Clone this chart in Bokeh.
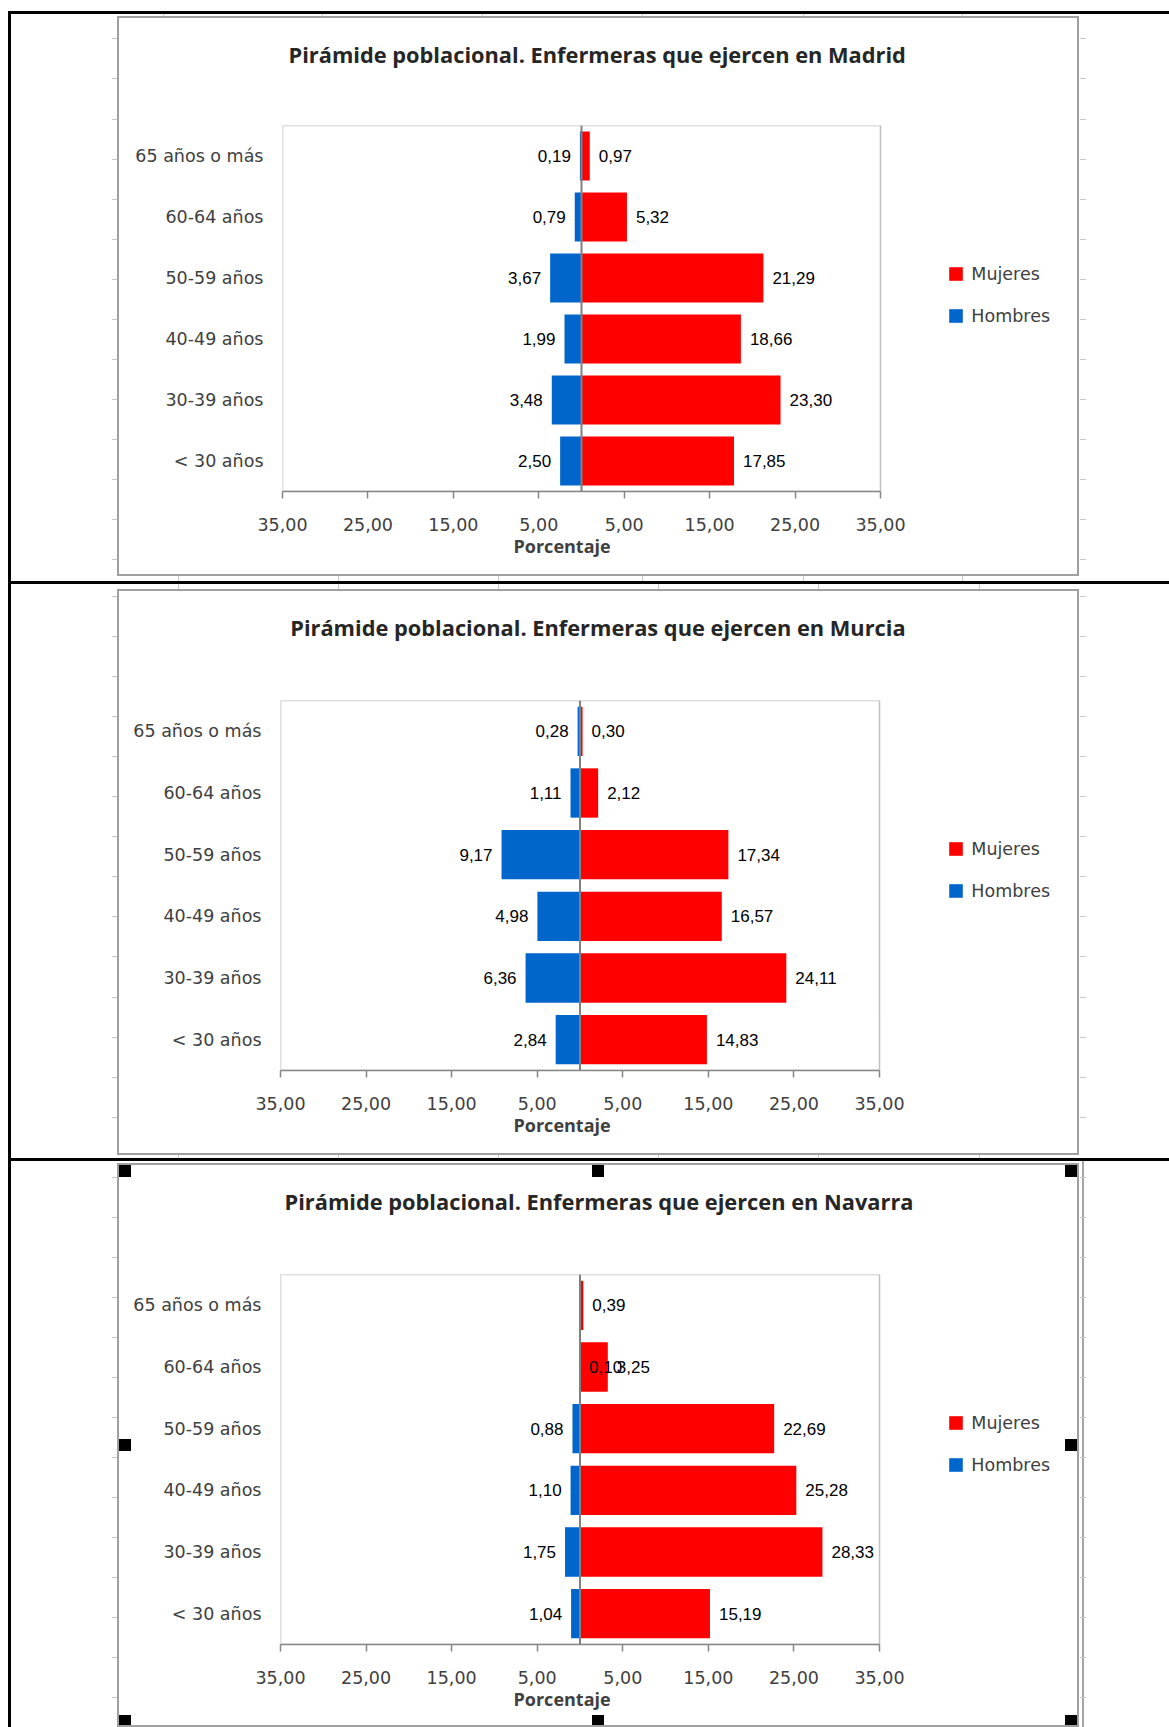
import numpy as np
from bokeh.plotting import figure
from bokeh.models import (ColumnDataSource, FactorRange, Range1d, LabelSet, Span, Title,
                          Legend, LegendItem, FixedTicker, BoxAnnotation)
from bokeh.layouts import column
from bokeh.embed import file_html
from bokeh.resources import INLINE
from bokeh.core.properties import value

# ---------------- data ----------------
AGE_GROUPS = ["< 30 años", "30-39 años", "40-49 años", "50-59 años", "60-64 años", "65 años o más"]
REGIONS = ["Madrid", "Murcia", "Navarra"]

MADRID_MUJERES = [17.85, 23.30, 18.66, 21.29, 5.32, 0.97]
MADRID_HOMBRES = [2.50, 3.48, 1.99, 3.67, 0.79, 0.19]
MURCIA_MUJERES = [14.83, 24.11, 16.57, 17.34, 2.12, 0.30]
MURCIA_HOMBRES = [2.84, 6.36, 4.98, 9.17, 1.11, 0.28]
NAVARRA_MUJERES = [15.19, 28.33, 25.28, 22.69, 3.25, 0.39]
NAVARRA_HOMBRES = [1.04, 1.75, 1.10, 0.88, 0.10, None]

TITLE_TEXT = "Pirámide poblacional. Enfermeras que ejercen en {}"
SERIES = ["Mujeres", "Hombres"]
X_TITLE = "Porcentaje"
X_TICKS = [-35, -25, -15, -5, 5, 15, 25, 35]
X_TICK_LABELS = ["35,00", "25,00", "15,00", "5,00", "5,00", "15,00", "25,00", "35,00"]
X_LIMITS = (-35, 35)

# ---------------- style / layout (page pixel geometry) ----------------
RED = "#FF0000"
BLUE = "#0066CC"
TEXT_GREY = "#404040"
UI_FONT = "DejaVu Sans"
BOLD_FONT = "Open Sans"
LABEL_FONT = "Liberation Sans"
BAR_HEIGHT = 0.8
LABEL_AT_ZERO = {"Navarra": ["60-64 años"]}   # Excel drew this Hombres label right of zero

PAGE_X0 = 8                              # left black line starts here
PAGE_X1 = 1169
CHART_X0, CHART_X1 = 117, 1079          # outer edges of the grey chart border (2px)
CANVAS_X0 = CHART_X0 + 2
CANVAS_W = CHART_X1 - CHART_X0 - 4
LEGEND_X = 947.3
STUB = "#C8C8C8"

GEOMETRY = {
    "Madrid": dict(border_y=11, chart_y0=16, chart_y1=576, next_border=581,
                   plot=(282, 125, 880, 491), title_left=288, stub_y0=38.4,
                   top_stubs=[162.6, 321.5, 482.2, 642.3, 802.7, 962.0],
                   bottom_stubs=[178, 338, 497.5, 642.3, 802.7, 962.0]),
    "Murcia": dict(border_y=581, chart_y0=589, chart_y1=1155, next_border=1158,
                   plot=(280, 700, 879, 1070), title_left=289.7, stub_y0=596.0,
                   top_stubs=[178, 338, 497.5, 658.3, 818.3, 978.6],
                   bottom_stubs=[178, 338, 497.5, 658.3, 818.3, 978.6]),
    "Navarra": dict(border_y=1158, chart_y0=1163, chart_y1=1727, next_border=1727,
                    plot=(280, 1274, 879, 1644), title_left=284, stub_y0=1176.5,
                    top_stubs=[], bottom_stubs=[], selected=True),
}


def fmt(v):
    return f"{v:.2f}".replace(".", ",")


def css_rect(x, y, w, h, color):
    return f"linear-gradient({color}, {color}) {x:.1f}px {y:.1f}px / {w:.1f}px {h:.1f}px no-repeat"


def build_panel(region, mujeres, hombres, first):
    g = GEOMETRY[region]
    px0, py0, px1, py1 = g["plot"]
    canvas_y0 = g["chart_y0"] + 2
    H = g["chart_y1"] - g["chart_y0"] - 4
    L = int(round(px0 - CANVAS_X0))
    T = int(round(py0 - canvas_y0))
    B = H - int(round(py1 - canvas_y0))
    # the frame runs on to the right edge of the chart so the legend can sit inside it;
    # the visible plot area stays -35..35
    frame_right = CANVAS_X0 + CANVAS_W
    x_end = X_LIMITS[1] + (frame_right - px1) * (X_LIMITS[1] - X_LIMITS[0]) / (px1 - px0)

    p = figure(width=CANVAS_W, height=H, x_range=Range1d(X_LIMITS[0], x_end),
               y_range=FactorRange(factors=AGE_GROUPS),
               output_backend="svg", toolbar_location=None,
               min_border_left=L, min_border_right=0, min_border_top=T, min_border_bottom=B,
               background_fill_alpha=0, border_fill_alpha=0)
    p.xgrid.visible = False
    p.ygrid.visible = False
    p.outline_line_color = None

    # plot-area border
    p.add_layout(BoxAnnotation(left=X_LIMITS[0], right=X_LIMITS[1], fill_alpha=0,
                               line_color="#C0C0C0", line_alpha=1, line_width=1.5, level="underlay"))

    # bars
    hom = np.array([np.nan if v is None else -v for v in hombres], dtype=float)
    src = ColumnDataSource(dict(age=AGE_GROUPS, muj=np.array(mujeres, dtype=float),
                                hom=hom, zero=np.zeros(len(AGE_GROUPS))))
    r_m = p.hbar(y="age", left="zero", right="muj", height=BAR_HEIGHT, source=src,
                 fill_color=RED, line_color=None)
    r_h = p.hbar(y="age", left="hom", right="zero", height=BAR_HEIGHT, source=src,
                 fill_color=BLUE, line_color=None)
    p.add_layout(Span(location=0, dimension="height", line_color="#808080", line_width=2))

    # data labels
    lab_style = dict(text_baseline="middle", text_font=value(LABEL_FONT),
                     text_font_size="17px", text_color="black")
    m_src = ColumnDataSource(dict(x=mujeres, y=AGE_GROUPS, t=[fmt(v) for v in mujeres]))
    p.add_layout(LabelSet(x="x", y="y", text="t", source=m_src, x_offset=9,
                          text_align="left", **lab_style))
    at_zero = LABEL_AT_ZERO.get(region, [])
    normal = [(a, v) for a, v in zip(AGE_GROUPS, hombres) if v is not None and a not in at_zero]
    h_src = ColumnDataSource(dict(x=[-v for a, v in normal], y=[a for a, v in normal],
                                  t=[fmt(v) for a, v in normal]))
    p.add_layout(LabelSet(x="x", y="y", text="t", source=h_src, x_offset=-9,
                          text_align="right", **lab_style))
    flipped = [(a, v) for a, v in zip(AGE_GROUPS, hombres) if v is not None and a in at_zero]
    if flipped:
        f_src = ColumnDataSource(dict(x=[0] * len(flipped), y=[a for a, v in flipped],
                                      t=[fmt(v) for a, v in flipped]))
        p.add_layout(LabelSet(x="x", y="y", text="t", source=f_src, x_offset=9,
                              text_align="left", **lab_style))

    # axes
    xa = p.xaxis[0]
    xa.ticker = FixedTicker(ticks=X_TICKS)
    xa.bounds = X_LIMITS
    xa.major_label_overrides = dict(zip(X_TICKS, X_TICK_LABELS))
    xa.axis_line_color = "#868686"
    xa.axis_line_width = 1.5
    xa.major_tick_line_color = "#868686"
    xa.major_tick_line_width = 1.5
    xa.major_tick_out = 7
    xa.major_tick_in = 0
    xa.minor_tick_line_color = None
    xa.major_label_text_font = UI_FONT
    xa.major_label_text_font_size = "17.5px"
    xa.major_label_text_color = TEXT_GREY
    xa.major_label_standoff = 19

    ya = p.yaxis[0]
    ya.axis_line_color = None
    ya.major_tick_line_color = None
    ya.major_tick_out = 0
    ya.major_tick_in = 0
    ya.major_label_standoff = 19
    ya.major_label_text_font = UI_FONT
    ya.major_label_text_font_size = "17.5px"
    ya.major_label_text_color = TEXT_GREY

    # chart title (a blank spacer title keeps it near the top of the chart area)
    title_bottom = 49.0
    p.add_layout(Title(text=" ", text_font_size="1px", standoff=max(0, int(T - title_bottom - 4))), "above")
    p.add_layout(Title(text=TITLE_TEXT.format(region), align="left", offset=g["title_left"] - px0,
                       vertical_align="bottom", standoff=0,
                       text_font=BOLD_FONT, text_font_style="bold", text_font_size="21.8px",
                       text_color="#262626"), "above")
    # axis title
    p.add_layout(Title(text=X_TITLE, align="left", offset=513 - px0, vertical_align="top", standoff=0,
                       text_font=BOLD_FONT, text_font_style="bold", text_font_size="18px",
                       text_color=TEXT_GREY), "below")

    # legend (inside the extended frame, to the right of the plot area)
    leg_bottom = py0 + 149 + 52.2
    legend = Legend(items=[LegendItem(label=SERIES[0], renderers=[r_m]),
                           LegendItem(label=SERIES[1], renderers=[r_h])],
                    location=(LEGEND_X - px0, py1 - leg_bottom), orientation="vertical",
                    glyph_width=17, glyph_height=17, label_standoff=7, spacing=21,
                    label_height=21, padding=0, margin=0,
                    border_line_color=None, background_fill_alpha=0,
                    label_text_font=UI_FONT, label_text_font_size="17.5px",
                    label_text_color=TEXT_GREY)
    p.add_layout(legend)

    # ---- CSS decoration: chart border, black table lines, sheet grid stubs, handles
    chart_bg = []
    if g.get("selected"):
        hw = 12
        xs = [0, (CANVAS_W - hw) / 2, CANVAS_W - hw]
        ys = [0, 274, H - hw + 2]
        for (xx, yy) in [(xs[0], ys[0]), (xs[1], ys[0]), (xs[2], ys[0]), (xs[0], ys[1]),
                         (xs[2], ys[1]), (xs[0], ys[2]), (xs[1], ys[2]), (xs[2], ys[2])]:
            chart_bg.append(css_rect(xx, yy, hw, hw, "black"))
    chart_bg.append("white")
    inner_top = g["border_y"] + 3
    chart = column(p, styles={"border": "2px solid #A0A0A0", "background": ", ".join(chart_bg)},
                   margin=(g["chart_y0"] - inner_top, PAGE_X1 - CHART_X1,
                           g["next_border"] - g["chart_y1"], CHART_X0 - PAGE_X0 - 3))

    ox, oy = PAGE_X0 + 3, inner_top
    bg = []
    y = g["stub_y0"]
    while y < g["chart_y1"]:
        bg.append(css_rect(112 - ox, y - oy, 5, 1, STUB))
        bg.append(css_rect(1080 - ox, y - oy, 6, 1, STUB))
        y += 40.05
    for xx in g["top_stubs"]:
        bg.append(css_rect(xx - ox, 0, 1, g["chart_y0"] - oy, STUB))
    for xx in g["bottom_stubs"]:
        bg.append(css_rect(xx - ox, g["chart_y1"] - oy, 1, g["next_border"] - g["chart_y1"], STUB))
    if g.get("selected"):
        bg.append(css_rect(1082.3 - ox, 0, 2, 600, "#A6A6A6"))
    bg.append("white")
    panel = column(chart, styles={"border-top": "3px solid black", "border-left": "3px solid black",
                                  "background": ", ".join(bg)},
                   margin=(g["border_y"] if first else 0, 0, 0, PAGE_X0))
    return panel


DATA = {
    "Madrid": (MADRID_MUJERES, MADRID_HOMBRES),
    "Murcia": (MURCIA_MUJERES, MURCIA_HOMBRES),
    "Navarra": (NAVARRA_MUJERES, NAVARRA_HOMBRES),
}

panels = [build_panel(r, *DATA[r], first=(i == 0)) for i, r in enumerate(REGIONS)]
layout = column(*panels, spacing=0)

open("out.html", "w").write(file_html(layout, INLINE, title="Pirámide poblacional"))
